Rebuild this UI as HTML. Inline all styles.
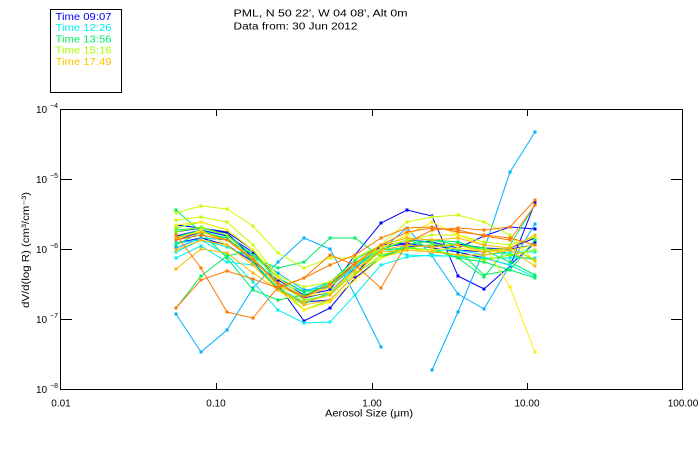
<!DOCTYPE html>
<html><head><meta charset="utf-8"><style>
html,body{margin:0;padding:0;background:#fff;}
svg{display:block;}
text{font-family:"Liberation Sans",sans-serif;}
</style></head><body>
<svg width="700" height="450" viewBox="0 0 700 450" xmlns="http://www.w3.org/2000/svg">
<defs>
<marker id="mB" markerUnits="userSpaceOnUse" markerWidth="4" markerHeight="4" refX="1.5" refY="1.5"><rect x="0" y="0" width="3" height="3" fill="#0000ff"/></marker>
<marker id="mS" markerUnits="userSpaceOnUse" markerWidth="4" markerHeight="4" refX="1.5" refY="1.5"><rect x="0" y="0" width="3" height="3" fill="#00b0ff"/></marker>
<marker id="mC" markerUnits="userSpaceOnUse" markerWidth="4" markerHeight="4" refX="1.5" refY="1.5"><rect x="0" y="0" width="3" height="3" fill="#00f0f0"/></marker>
<marker id="mG" markerUnits="userSpaceOnUse" markerWidth="4" markerHeight="4" refX="1.5" refY="1.5"><rect x="0" y="0" width="3" height="3" fill="#00f060"/></marker>
<marker id="mL" markerUnits="userSpaceOnUse" markerWidth="4" markerHeight="4" refX="1.5" refY="1.5"><rect x="0" y="0" width="3" height="3" fill="#80ff00"/></marker>
<marker id="mV" markerUnits="userSpaceOnUse" markerWidth="4" markerHeight="4" refX="1.5" refY="1.5"><rect x="0" y="0" width="3" height="3" fill="#c8ff00"/></marker>
<marker id="mY" markerUnits="userSpaceOnUse" markerWidth="4" markerHeight="4" refX="1.5" refY="1.5"><rect x="0" y="0" width="3" height="3" fill="#ffee00"/></marker>
<marker id="mQ" markerUnits="userSpaceOnUse" markerWidth="4" markerHeight="4" refX="1.5" refY="1.5"><rect x="0" y="0" width="3" height="3" fill="#ffb800"/></marker>
<marker id="mO" markerUnits="userSpaceOnUse" markerWidth="4" markerHeight="4" refX="1.5" refY="1.5"><rect x="0" y="0" width="3" height="3" fill="#ff7800"/></marker>
</defs>
<rect width="700" height="450" fill="#fff"/>

<!-- legend box -->
<rect x="50.5" y="9.5" width="71" height="83" fill="none" stroke="#000" stroke-width="1" shape-rendering="crispEdges"/>
<text x="55.5" y="20" font-size="10" fill="#0000ff" textLength="56" lengthAdjust="spacingAndGlyphs">Time 09:07</text>
<text x="55.5" y="31.2" font-size="10" fill="#00f0f0" textLength="56" lengthAdjust="spacingAndGlyphs">Time 12:26</text>
<text x="55.5" y="42.5" font-size="10" fill="#00f060" textLength="56" lengthAdjust="spacingAndGlyphs">Time 13:56</text>
<text x="55.5" y="53.7" font-size="10" fill="#a8ff00" textLength="56" lengthAdjust="spacingAndGlyphs">Time 15:16</text>
<text x="55.5" y="65" font-size="10" fill="#ffc000" textLength="56" lengthAdjust="spacingAndGlyphs">Time 17:49</text>

<!-- title -->
<text x="233.5" y="16.7" font-size="10" fill="#000" textLength="174" lengthAdjust="spacingAndGlyphs">PML, N 50 22', W 04 08', Alt 0m</text>
<text x="233.5" y="29.3" font-size="10" fill="#000" textLength="124" lengthAdjust="spacingAndGlyphs">Data from: 30 Jun 2012</text>

<!-- axes frame -->
<g stroke="#000" stroke-width="1" shape-rendering="crispEdges" fill="none">
<rect x="60.5" y="109.5" width="622" height="280"/>
<line x1="60" y1="179.5" x2="72" y2="179.5"/>
<line x1="60" y1="249.5" x2="72" y2="249.5"/>
<line x1="60" y1="319.5" x2="72" y2="319.5"/>
<line x1="671" y1="179.5" x2="683" y2="179.5"/>
<line x1="671" y1="249.5" x2="683" y2="249.5"/>
<line x1="671" y1="319.5" x2="683" y2="319.5"/>
<line x1="216.5" y1="110" x2="216.5" y2="116"/>
<line x1="372.5" y1="110" x2="372.5" y2="116"/>
<line x1="527.5" y1="110" x2="527.5" y2="116"/>
<line x1="216.5" y1="383" x2="216.5" y2="389"/>
<line x1="372.5" y1="383" x2="372.5" y2="389"/>
<line x1="527.5" y1="383" x2="527.5" y2="389"/>
</g>

<!-- y tick labels -->
<g font-size="10" fill="#000">
<text x="36" y="113">10</text><text x="50" y="108" font-size="7">−4</text>
<text x="36" y="183">10</text><text x="50" y="178" font-size="7">−5</text>
<text x="36" y="253">10</text><text x="50" y="248" font-size="7">−6</text>
<text x="36" y="323">10</text><text x="50" y="318" font-size="7">−7</text>
<text x="36" y="393">10</text><text x="50" y="388" font-size="7">−8</text>
</g>

<!-- x tick labels -->
<g font-size="10" fill="#000" text-anchor="middle">
<text x="61" y="406.5">0.01</text>
<text x="216" y="406.5">0.10</text>
<text x="372" y="406.5">1.00</text>
<text x="527" y="406.5">10.00</text>
<text x="683" y="406.5">100.00</text>
</g>
<text x="369" y="416.5" font-size="10" fill="#000" text-anchor="middle" textLength="88" lengthAdjust="spacingAndGlyphs">Aerosol Size (μm)</text>
<text transform="translate(29,250) rotate(-90)" font-size="10" fill="#000" text-anchor="middle" textLength="116" lengthAdjust="spacingAndGlyphs">dV/d(log R) (cm³/cm⁻³)</text>

<!-- series -->
<g fill="none" stroke-width="1">
<polyline stroke="#0000ff" marker-start="url(#mB)" marker-mid="url(#mB)" marker-end="url(#mB)" points="176,232 201,228 227,233 253,258 278,285 304,321 330,308 355,278 381,258 407,247 432,245 458,250 484,252 510,248 535,238"/>
<polyline stroke="#0000ff" marker-start="url(#mB)" marker-mid="url(#mB)" marker-end="url(#mB)" points="176,240 201,232 227,238 253,262 278,280 304,295 330,290 355,255 381,223 407,210 432,216 458,276 484,289 510,266 535,203"/>
<polyline stroke="#0000ff" marker-start="url(#mB)" marker-mid="url(#mB)" marker-end="url(#mB)" points="176,236 201,230 227,236 253,252 278,278 304,292 330,282 355,265 381,248 407,240 432,242 458,248 484,236 510,227 535,229"/>
<polyline stroke="#0000ff" marker-start="url(#mB)" marker-mid="url(#mB)" marker-end="url(#mB)" points="176,243 201,238 227,245 253,262 278,290 304,302 330,300 355,275 381,245 407,243 432,248 458,252 484,258 510,265 535,243"/>
<polyline stroke="#0000ff" marker-start="url(#mB)" marker-mid="url(#mB)" marker-end="url(#mB)" points="176,225 201,228 227,232 253,250 278,283 304,298 330,292 355,268 381,247 407,244 432,247 458,244 484,248 510,249 535,245"/>
<polyline stroke="#00b0ff" marker-start="url(#mS)" marker-mid="url(#mS)" marker-end="url(#mS)" points="176,314 201,352 227,330 253,288 278,262 304,238 330,249 355,295 381,347"/>
<polyline stroke="#00b0ff" marker-start="url(#mS)" marker-mid="url(#mS)" marker-end="url(#mS)" points="432,370 458,312 484,250 510,172 535,132"/>
<polyline stroke="#00b0ff" marker-start="url(#mS)" marker-mid="url(#mS)" marker-end="url(#mS)" points="176,248 201,238 227,240 253,255 278,273 304,290 330,287 355,267 381,250 407,228 432,256 458,294 484,309 510,265 535,224"/>
<polyline stroke="#00f0f0" marker-start="url(#mC)" marker-mid="url(#mC)" marker-end="url(#mC)" points="176,252 201,240 227,255 253,282 278,310 304,323 330,322 355,295 381,265 407,257 432,255 458,257 484,258 510,265 535,277"/>
<polyline stroke="#00f0f0" marker-start="url(#mC)" marker-mid="url(#mC)" marker-end="url(#mC)" points="176,258 201,246 227,262 253,265 278,288 304,302 330,294 355,267 381,248 407,255 432,256 458,256 484,258 510,258 535,258"/>
<polyline stroke="#00f0f0" marker-start="url(#mC)" marker-mid="url(#mC)" marker-end="url(#mC)" points="176,243 201,240 227,247 253,258 278,283 304,292 330,282 355,263 381,250 407,248 432,250 458,250 484,255 510,252 535,252"/>
<polyline stroke="#00f060" marker-start="url(#mG)" marker-mid="url(#mG)" marker-end="url(#mG)" points="176,210 201,232 227,258 253,290 278,300 304,295 330,285 355,265 381,250 407,240 432,243 458,250 484,275 510,270 535,240"/>
<polyline stroke="#00f060" marker-start="url(#mG)" marker-mid="url(#mG)" marker-end="url(#mG)" points="176,308 201,276 227,256 253,250 278,278 304,297 330,282 355,260 381,245 407,238 432,240 458,245 484,248 510,255 535,260"/>
<polyline stroke="#00f060" marker-start="url(#mG)" marker-mid="url(#mG)" marker-end="url(#mG)" points="176,237 201,230 227,240 253,258 278,268 304,262 330,238 355,238 381,257 407,245 432,240 458,242 484,250 510,262 535,275"/>
<polyline stroke="#00f060" marker-start="url(#mG)" marker-mid="url(#mG)" marker-end="url(#mG)" points="176,245 201,232 227,238 253,262 278,288 304,304 330,292 355,270 381,250 407,248 432,250 458,258 484,277 510,245 535,205"/>
<polyline stroke="#00f060" marker-start="url(#mG)" marker-mid="url(#mG)" marker-end="url(#mG)" points="176,230 201,228 227,235 253,255 278,278 304,292 330,287 355,265 381,250 407,240 432,248 458,258 484,262 510,270 535,278"/>
<polyline stroke="#80ff00" marker-start="url(#mL)" marker-mid="url(#mL)" marker-end="url(#mL)" points="176,228 201,222 227,230 253,250 278,283 304,300 330,295 355,273 381,258 407,248 432,245 458,245 484,250 510,248 535,260"/>
<polyline stroke="#80ff00" marker-start="url(#mL)" marker-mid="url(#mL)" marker-end="url(#mL)" points="176,232 201,227 227,235 253,260 278,285 304,310 330,300 355,275 381,255 407,248 432,250 458,255 484,260 510,255 535,250"/>
<polyline stroke="#c8ff00" marker-start="url(#mV)" marker-mid="url(#mV)" marker-end="url(#mV)" points="176,213 201,206 227,209 253,226 278,253 304,268 330,258 355,258 381,245 407,222 432,217 458,215 484,222 510,235 535,262"/>
<polyline stroke="#c8ff00" marker-start="url(#mV)" marker-mid="url(#mV)" marker-end="url(#mV)" points="176,220 201,217 227,222 253,245 278,276 304,287 330,282 355,263 381,248 407,240 432,235 458,235 484,242 510,245 535,237"/>
<polyline stroke="#ffee00" marker-start="url(#mY)" marker-mid="url(#mY)" marker-end="url(#mY)" points="176,225 201,222 227,230 253,250 278,278 304,297 330,292 355,270 381,248 407,235 432,222 458,235 484,245 510,287 535,352"/>
<polyline stroke="#ffee00" marker-start="url(#mY)" marker-mid="url(#mY)" marker-end="url(#mY)" points="176,240 201,230 227,245 253,265 278,290 304,310 330,302 355,280 381,258 407,250 432,250 458,248 484,252 510,250 535,245"/>
<polyline stroke="#ffb800" marker-start="url(#mQ)" marker-mid="url(#mQ)" marker-end="url(#mQ)" points="176,269 201,249 227,253 253,273 278,290 304,305 330,300 355,275 381,250 407,245 432,247 458,245 484,252 510,248 535,260"/>
<polyline stroke="#ffb800" marker-start="url(#mQ)" marker-mid="url(#mQ)" marker-end="url(#mQ)" points="176,238 201,232 227,240 253,258 278,286 304,297 330,287 355,265 381,245 407,238 432,240 458,238 484,245 510,248 535,235"/>
<polyline stroke="#ffb800" marker-start="url(#mQ)" marker-mid="url(#mQ)" marker-end="url(#mQ)" points="176,250 201,240 227,245 253,265 278,290 304,302 330,295 355,270 381,252 407,250 432,252 458,255 484,255 510,250 535,266"/>
<polyline stroke="#ff7800" marker-start="url(#mO)" marker-mid="url(#mO)" marker-end="url(#mO)" points="176,308 201,280 227,271 253,279 278,288 304,278 330,255 355,265 381,288 407,243 432,230 458,228 484,230 510,227 535,200"/>
<polyline stroke="#ff7800" marker-start="url(#mO)" marker-mid="url(#mO)" marker-end="url(#mO)" points="176,235 201,268 227,312 253,318 278,287 304,278 330,265 355,255 381,238 407,228 432,227 458,232 484,235 510,238 535,245"/>
<polyline stroke="#ff7800" marker-start="url(#mO)" marker-mid="url(#mO)" marker-end="url(#mO)" points="176,240 201,235 227,240 253,260 278,283 304,297 330,284 355,263 381,245 407,232 432,228 458,230 484,236 510,240 535,205"/>
</g>
</svg>
</body></html>
